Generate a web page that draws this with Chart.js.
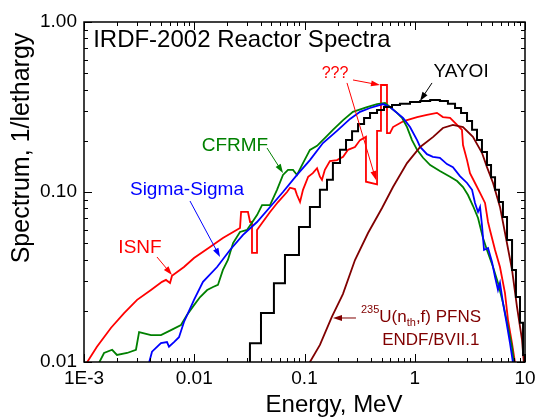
<!DOCTYPE html>
<html>
<head>
<meta charset="utf-8">
<script src="https://cdn.jsdelivr.net/npm/chart.js@4"></script>
<style>
  html, body { margin: 0; padding: 0; background: #fff; }
</style>
</head>
<body>
<canvas id="chart" width="538" height="420"></canvas>
<script>
// energies in MeV, spectra in 1/lethargy
const yayoiE = [0.02, 0.032, 0.0403, 0.0528, 0.0665, 0.0891, 0.112, 0.138, 0.160, 0.181, 0.210, 0.238, 0.270, 0.306, 0.347, 0.393, 0.455, 0.526, 0.622, 0.734, 0.906, 1.12, 1.38, 1.69, 2.00, 2.32, 2.63, 2.98, 3.31, 3.67, 4.07, 4.52, 4.92, 5.35, 5.81, 6.31, 6.87, 7.63, 8.28, 9.01, 9.6, 10];
const yayoiFlux = [0.005, 0.0129, 0.0194, 0.0291, 0.0426, 0.0622, 0.0817, 0.103, 0.118, 0.148, 0.177, 0.202, 0.228, 0.251, 0.272, 0.292, 0.304, 0.316, 0.325, 0.330, 0.338, 0.343, 0.348, 0.343, 0.330, 0.312, 0.292, 0.262, 0.232, 0.202, 0.172, 0.144, 0.122, 0.103, 0.0873, 0.0713, 0.0522, 0.0348, 0.0241, 0.0170, 0.0110, 0.005];

const isnfE = [0.00106, 0.00131, 0.00176, 0.00231, 0.00303, 0.00405, 0.00510, 0.00554, 0.00603, 0.00628, 0.00807, 0.00995, 0.0139, 0.0182, 0.0260, 0.0266, 0.0307, 0.0321, 0.0334, 0.0334, 0.0371, 0.0371, 0.0412, 0.0487, 0.0575, 0.0694, 0.0739, 0.0820, 0.0855, 0.0911, 0.0969, 0.108, 0.119, 0.130, 0.138, 0.144, 0.153, 0.170, 0.197, 0.224, 0.248, 0.287, 0.319, 0.361, 0.361, 0.455, 0.455, 0.494, 0.494, 0.560, 0.560, 0.596, 0.635, 0.766, 0.851, 1.05, 1.29, 1.59, 1.80, 2.09, 2.42, 2.68, 2.74, 2.98, 3.17, 3.52, 3.91, 4.34, 4.62, 4.81, 5.35, 5.93, 6.58, 7.01, 7.62, 8.12];
const isnfFlux = [0.0099, 0.0123, 0.0159, 0.0194, 0.0232, 0.0265, 0.0296, 0.0304, 0.0292, 0.0321, 0.0362, 0.0409, 0.0475, 0.0536, 0.0614, 0.0763, 0.0763, 0.0666, 0.0666, 0.0438, 0.0438, 0.0598, 0.0657, 0.0763, 0.0873, 0.100, 0.106, 0.104, 0.0960, 0.0873, 0.103, 0.123, 0.129, 0.138, 0.123, 0.118, 0.135, 0.152, 0.154, 0.161, 0.177, 0.184, 0.202, 0.211, 0.115, 0.111, 0.229, 0.229, 0.426, 0.426, 0.222, 0.222, 0.241, 0.258, 0.265, 0.276, 0.284, 0.292, 0.276, 0.273, 0.248, 0.232, 0.189, 0.154, 0.129, 0.113, 0.0987, 0.0862, 0.0666, 0.0598, 0.0456, 0.0362, 0.0255, 0.0177, 0.0129, 0.0099];

const cfrmfE = [0.00137, 0.00152, 0.00180, 0.00199, 0.00246, 0.00296, 0.00316, 0.00405, 0.00499, 0.00615, 0.00758, 0.00859, 0.00995, 0.0113, 0.0131, 0.0148, 0.0164, 0.0182, 0.0202, 0.0225, 0.0260, 0.0301, 0.0371, 0.0412, 0.0487, 0.0563, 0.0638, 0.0709, 0.0787, 0.0855, 0.0969, 0.112, 0.130, 0.160, 0.181, 0.224, 0.275, 0.369, 0.455, 0.537, 0.596, 0.690, 0.766, 0.851, 0.944, 1.05, 1.19, 1.38, 1.69, 2.09, 2.42, 2.74, 3.04, 3.38, 3.75, 4.16, 4.52, 5.13, 5.69, 6.32, 7.01, 7.62, 7.95];
const cfrmfFlux = [0.0099, 0.0113, 0.0118, 0.0110, 0.0113, 0.0118, 0.0150, 0.0144, 0.0144, 0.0154, 0.0165, 0.0189, 0.0216, 0.0241, 0.0265, 0.0276, 0.0284, 0.0348, 0.0398, 0.0501, 0.0582, 0.0598, 0.0732, 0.0838, 0.0838, 0.103, 0.126, 0.135, 0.135, 0.126, 0.148, 0.177, 0.187, 0.214, 0.232, 0.265, 0.296, 0.316, 0.329, 0.334, 0.316, 0.292, 0.273, 0.241, 0.202, 0.177, 0.159, 0.144, 0.133, 0.123, 0.116, 0.107, 0.0960, 0.0827, 0.0703, 0.0536, 0.0456, 0.0362, 0.0292, 0.0222, 0.0161, 0.0123, 0.0099];

const sigmaE = [0.00389, 0.00414, 0.00499, 0.00566, 0.00590, 0.00655, 0.00727, 0.00807, 0.00995, 0.0120, 0.0161, 0.0211, 0.0277, 0.0371, 0.0487, 0.0638, 0.0855, 0.112, 0.147, 0.197, 0.259, 0.319, 0.393, 0.515, 0.596, 0.690, 0.783, 0.906, 1.05, 1.12, 1.29, 1.46, 1.69, 1.96, 2.22, 2.57, 2.98, 3.31, 3.52, 3.75, 3.91, 4.07, 4.25, 4.62, 5.02, 5.35, 5.69, 5.93, 6.32, 6.73, 7.31, 7.78];
const sigmaFlux = [0.0099, 0.0115, 0.0129, 0.0131, 0.0123, 0.0131, 0.0140, 0.0172, 0.0232, 0.0296, 0.0362, 0.0456, 0.0559, 0.0666, 0.0816, 0.100, 0.126, 0.154, 0.194, 0.229, 0.269, 0.296, 0.312, 0.329, 0.316, 0.292, 0.273, 0.241, 0.202, 0.184, 0.167, 0.161, 0.159, 0.146, 0.140, 0.124, 0.113, 0.103, 0.0862, 0.0763, 0.0816, 0.0640, 0.0456, 0.0468, 0.0388, 0.0316, 0.0265, 0.0292, 0.0222, 0.0177, 0.0129, 0.0099];

const pfnsE = [0.11, 0.138, 0.177, 0.223, 0.287, 0.377, 0.505, 0.635, 0.851, 1.12, 1.47, 1.80, 2.22, 2.74, 3.37, 4.07, 4.52, 5.13, 5.93, 6.59, 7.63, 8.46, 9.4, 9.6, 9.9];
const pfnsFlux = [0.0098, 0.0126, 0.0184, 0.0251, 0.0398, 0.0574, 0.0805, 0.107, 0.148, 0.184, 0.211, 0.238, 0.248, 0.241, 0.211, 0.170, 0.140, 0.113, 0.0817, 0.0574, 0.0348, 0.0211, 0.0135, 0.0113, 0.009];

const xTicks = [0.001, 0.01, 0.1, 1, 10];
const xTickLabels = ['1E-3', '0.01', '0.1', '1', '10'];
const yTicks = [0.01, 0.1, 1];
const yTickLabels = ['0.01', '0.10', '1.00'];

const FONT = "'Liberation Sans', Arial, sans-serif";

function pts(xs, ys) {
  return xs.map((v, i) => ({ x: v, y: ys[i] }));
}

// labels and arrows, placed in data coordinates
const notes = [
  { text: 'YAYOI', color: '#000000', x: 2.63, y: 0.508, size: 19 },
  { text: '???', color: '#ff0000', x: 0.189, y: 0.494, size: 16 },
  { text: 'CFRMF', color: '#008000', x: 0.0234, y: 0.1865, size: 19 },
  { text: 'Sigma-Sigma', color: '#0000ff', x: 0.00859, y: 0.1027, size: 19 },
  { text: 'ISNF', color: '#ff0000', x: 0.00322, y: 0.0469, size: 19 },
  { text: 'ENDF/BVII.1', color: '#800000', x: 1.40, y: 0.01347, size: 17 }
];
const arrows = [
  { color: '#000000', from: [1.434, 0.438], to: [1.116, 0.343] },
  { color: '#ff0000', from: [0.2754, 0.456], to: [0.484, 0.4258] },
  { color: '#ff0000', from: [0.2429, 0.438], to: [0.445, 0.1177] },
  { color: '#008000', from: [0.0457, 0.1815], to: [0.0638, 0.1293] },
  { color: '#0000ff', from: [0.00915, 0.0885], to: [0.01713, 0.04147] },
  { color: '#ff0000', from: [0.00459, 0.04147], to: [0.00628, 0.0325] },
  { color: '#800000', from: [0.293, 0.01815], to: [0.1814, 0.01815] }
];

const decorations = {
  id: 'decorations',
  afterDatasetsDraw(chart) {
    const { ctx, chartArea: a, scales: { x, y } } = chart;
    ctx.save();

    // inner ticks on all four sides
    ctx.strokeStyle = '#000';
    ctx.lineWidth = 1;
    ctx.beginPath();
    for (let d = -3; d <= 1; d++) {
      for (let m = 1; m <= 9; m++) {
        const v = m * Math.pow(10, d);
        if (v > 10.0001) continue;
        const px = Math.round(x.getPixelForValue(v)) + 0.5;
        const len = m === 1 ? 8 : 4;
        ctx.moveTo(px, a.bottom); ctx.lineTo(px, a.bottom - len);
        ctx.moveTo(px, a.top); ctx.lineTo(px, a.top + len);
      }
    }
    for (let d = -2; d <= 0; d++) {
      for (let m = 1; m <= 9; m++) {
        const v = m * Math.pow(10, d);
        if (v > 1.0001) continue;
        const py = Math.round(y.getPixelForValue(v)) + 0.5;
        const len = m === 1 ? 8 : 4;
        ctx.moveTo(a.left, py); ctx.lineTo(a.left + len, py);
        ctx.moveTo(a.right, py); ctx.lineTo(a.right - len, py);
      }
    }
    ctx.stroke();

    ctx.lineWidth = 1.5;
    ctx.strokeRect(a.left, a.top, a.right - a.left, a.bottom - a.top);

    // tick labels
    ctx.fillStyle = '#000';
    ctx.font = '19px ' + FONT;
    ctx.textBaseline = 'middle';
    ctx.textAlign = 'center';
    xTicks.forEach((v, i) => ctx.fillText(xTickLabels[i], x.getPixelForValue(v), a.bottom + 17));
    ctx.textAlign = 'right';
    yTicks.forEach((v, i) => ctx.fillText(yTickLabels[i], a.left - 7, y.getPixelForValue(v)));

    // arrows
    arrows.forEach(ar => {
      const x0 = x.getPixelForValue(ar.from[0]), y0 = y.getPixelForValue(ar.from[1]);
      const x1 = x.getPixelForValue(ar.to[0]), y1 = y.getPixelForValue(ar.to[1]);
      const ang = Math.atan2(y1 - y0, x1 - x0);
      ctx.strokeStyle = ar.color;
      ctx.fillStyle = ar.color;
      ctx.lineWidth = 1;
      ctx.beginPath();
      ctx.moveTo(x0, y0);
      ctx.lineTo(x1 - 6 * Math.cos(ang), y1 - 6 * Math.sin(ang));
      ctx.stroke();
      ctx.beginPath();
      ctx.moveTo(x1, y1);
      ctx.lineTo(x1 - 9 * Math.cos(ang) + 3 * Math.sin(ang), y1 - 9 * Math.sin(ang) - 3 * Math.cos(ang));
      ctx.lineTo(x1 - 9 * Math.cos(ang) - 3 * Math.sin(ang), y1 - 9 * Math.sin(ang) + 3 * Math.cos(ang));
      ctx.closePath();
      ctx.fill();
    });

    // text labels
    ctx.textAlign = 'center';
    notes.forEach(n => {
      ctx.fillStyle = n.color;
      ctx.font = n.size + 'px ' + FONT;
      ctx.fillText(n.text, x.getPixelForValue(n.x), y.getPixelForValue(n.y));
    });

    // 235U(nth,f) PFNS with super/subscripts
    const parts = [
      { t: '235', s: 11, dy: -7 },
      { t: 'U(n', s: 17, dy: 0 },
      { t: 'th', s: 11, dy: 6 },
      { t: ',f) PFNS', s: 17, dy: 0 }
    ];
    let w = 0;
    parts.forEach(p => { ctx.font = p.s + 'px ' + FONT; w += ctx.measureText(p.t).width; });
    let cx = x.getPixelForValue(1.14) - w / 2;
    const cy = y.getPixelForValue(0.01839);
    ctx.textAlign = 'left';
    ctx.fillStyle = '#800000';
    parts.forEach(p => {
      ctx.font = p.s + 'px ' + FONT;
      ctx.fillText(p.t, cx, cy + p.dy);
      cx += ctx.measureText(p.t).width;
    });

    // plot title inside the frame
    ctx.fillStyle = '#000';
    ctx.font = '24px ' + FONT;
    ctx.fillText('IRDF-2002 Reactor Spectra', x.getPixelForValue(0.00121), y.getPixelForValue(0.78));

    // axis titles
    ctx.textAlign = 'center';
    ctx.fillText('Energy, MeV', 334, 405);
    ctx.translate(22, 148);
    ctx.rotate(-Math.PI / 2);
    ctx.font = '25px ' + FONT;
    ctx.fillText('Spectrum, 1/lethargy', 0, 0);
    ctx.restore();
  }
};

const lineStyle = { borderWidth: 1.8, pointRadius: 0, fill: false, clip: 0 };

new Chart(document.getElementById('chart').getContext('2d'), {
  type: 'line',
  data: {
    datasets: [
      { ...lineStyle, label: 'YAYOI', data: pts(yayoiE, yayoiFlux), borderColor: '#000000', stepped: true, borderWidth: 2 },
      { ...lineStyle, label: 'U-235 PFNS', data: pts(pfnsE, pfnsFlux), borderColor: '#800000' },
      { ...lineStyle, label: 'Sigma-Sigma', data: pts(sigmaE, sigmaFlux), borderColor: '#0000ff' },
      { ...lineStyle, label: 'CFRMF', data: pts(cfrmfE, cfrmfFlux), borderColor: '#008000' },
      { ...lineStyle, label: 'ISNF', data: pts(isnfE, isnfFlux), borderColor: '#ff0000' }
    ]
  },
  options: {
    responsive: false,
    animation: false,
    devicePixelRatio: 1,
    layout: { padding: { top: 22, right: 13, left: 0, bottom: 0 } },
    plugins: { legend: { display: false }, tooltip: { enabled: false } },
    scales: {
      x: {
        type: 'logarithmic',
        min: 0.001,
        max: 10,
        grid: { display: false, drawTicks: false },
        border: { display: false },
        afterBuildTicks: s => { s.ticks = xTicks.map(v => ({ value: v })); },
        afterFit: s => { s.height = 58; },
        ticks: { display: false }
      },
      y: {
        type: 'logarithmic',
        min: 0.01,
        max: 1,
        grid: { display: false, drawTicks: false },
        border: { display: false },
        afterBuildTicks: s => { s.ticks = yTicks.map(v => ({ value: v })); },
        afterFit: s => { s.width = 84; },
        ticks: { display: false }
      }
    }
  },
  plugins: [decorations]
});
</script>
</body>
</html>
